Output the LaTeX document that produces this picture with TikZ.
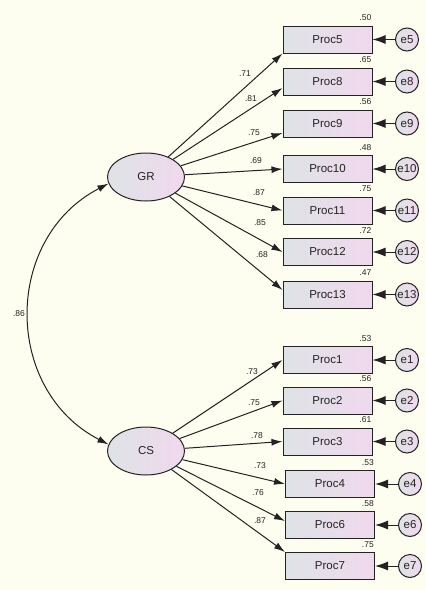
\documentclass[tikz,border=0pt]{standalone}
\usepackage{fontspec}
\setmainfont{Liberation Sans}
\usetikzlibrary{arrows.meta,shapes.geometric}
\definecolor{amosbg}{RGB}{254,254,240}
\definecolor{boxleft}{RGB}{222,227,229}
\definecolor{boxright}{RGB}{240,216,238}
\definecolor{inkgray}{RGB}{35,35,35}

\begin{document}
\begin{tikzpicture}[x=1pt, y=-1pt,
    every node/.style={font=\fontsize{11.5}{13}\selectfont, text=inkgray},
    obs/.style={draw=inkgray, line width=1pt, left color=boxleft, right color=boxright,
                minimum width=89pt, minimum height=27pt, inner sep=0pt},
    lat/.style={draw=inkgray, line width=1pt, ellipse, left color=boxleft, right color=boxright,
                minimum width=77pt, minimum height=48pt, inner sep=0pt},
    err/.style={draw=inkgray, line width=1pt, circle, left color=boxleft, right color=boxright,
                minimum size=23pt, inner sep=0pt},
    ld/.style={font=\fontsize{8.5}{10}\selectfont, inner sep=0pt},
    rsq/.style={font=\fontsize{8.5}{10}\selectfont, inner sep=0pt, anchor=base east},
    arr/.style={-{Latex[length=11pt,width=7pt]}, line width=1pt, draw=inkgray},
    earr/.style={-{Latex[length=13pt,width=9pt]}, line width=1pt, draw=inkgray},
    dbl/.style={{Latex[length=11pt,width=7pt]}-{Latex[length=11pt,width=7pt]}, line width=1pt, draw=inkgray},
]
    % Canvas: 1pt per pixel, y grows downwards
    \fill[amosbg] (0,0) rectangle (426,590);
    \useasboundingbox (0,0) rectangle (426,590);

    % Latent factors
    \node[lat] (gr) at (146,177) {GR};
    \node[lat] (cs) at (146,451) {CS};

    % Indicators of GR
    \node[obs] (p5)  at (327.5, 39.5) {Proc5};
    \node[obs] (p8)  at (327.5, 81.5) {Proc8};
    \node[obs] (p9)  at (327.5,123.5) {Proc9};
    \node[obs] (p10) at (327.5,169.0) {Proc10};
    \node[obs] (p11) at (327.5,210.5) {Proc11};
    \node[obs] (p12) at (327.5,252.0) {Proc12};
    \node[obs] (p13) at (327.5,294.5) {Proc13};

    % Indicators of CS
    \node[obs] (p1)  at (327.5,360.0) {Proc1};
    \node[obs] (p2)  at (327.5,400.5) {Proc2};
    \node[obs] (p3)  at (327.5,441.5) {Proc3};
    \node[obs] (p4)  at (330.0,484.0) {Proc4};
    \node[obs] (p6)  at (330.0,525.0) {Proc6};
    \node[obs] (p7)  at (330.0,566.0) {Proc7};

    % Error terms
    \node[err] (e5)  at (407, 39.5) {e5};
    \node[err] (e8)  at (407, 81.5) {e8};
    \node[err] (e9)  at (407,123.5) {e9};
    \node[err] (e10) at (407,169.0) {e10};
    \node[err] (e11) at (407,210.5) {e11};
    \node[err] (e12) at (407,252.0) {e12};
    \node[err] (e13) at (407,294.5) {e13};
    \node[err] (e1)  at (407,360.0) {e1};
    \node[err] (e2)  at (407,400.5) {e2};
    \node[err] (e3)  at (407,441.5) {e3};
    \node[err] (e4)  at (410,484.0) {e4};
    \node[err] (e6)  at (410,525.0) {e6};
    \node[err] (e7)  at (410,566.0) {e7};

    % Squared multiple correlations
    \node[rsq] (r5)  at ([xshift=-1pt,yshift=5pt]p5.north east)  {.50};
    \node[rsq] (r8)  at ([xshift=-1pt,yshift=5pt]p8.north east)  {.65};
    \node[rsq] (r9)  at ([xshift=-1pt,yshift=5pt]p9.north east)  {.56};
    \node[rsq] (r10) at ([xshift=-1pt,yshift=5pt]p10.north east) {.48};
    \node[rsq] (r11) at ([xshift=-1pt,yshift=5pt]p11.north east) {.75};
    \node[rsq] (r12) at ([xshift=-1pt,yshift=5pt]p12.north east) {.72};
    \node[rsq] (r13) at ([xshift=-1pt,yshift=5pt]p13.north east) {.47};
    \node[rsq] (r1)  at ([xshift=-1pt,yshift=5pt]p1.north east)  {.53};
    \node[rsq] (r2)  at ([xshift=-1pt,yshift=5pt]p2.north east)  {.56};
    \node[rsq] (r3)  at ([xshift=-1pt,yshift=5pt]p3.north east)  {.61};
    \node[rsq] (r4)  at ([xshift=-1pt,yshift=5pt]p4.north east)  {.53};
    \node[rsq] (r6)  at ([xshift=-1pt,yshift=5pt]p6.north east)  {.58};
    \node[rsq] (r7)  at ([xshift=-1pt,yshift=5pt]p7.north east)  {.75};

    % Error paths
    \draw[earr] (e5)  -- (p5);
    \draw[earr] (e8)  -- (p8);
    \draw[earr] (e9)  -- (p9);
    \draw[earr] (e10) -- (p10);
    \draw[earr] (e11) -- (p11);
    \draw[earr] (e12) -- (p12);
    \draw[earr] (e13) -- (p13);
    \draw[earr] (e1)  -- (p1);
    \draw[earr] (e2)  -- (p2);
    \draw[earr] (e3)  -- (p3);
    \draw[earr] (e4)  -- (p4);
    \draw[earr] (e6)  -- (p6);
    \draw[earr] (e7)  -- (p7);

    % Loadings of GR
    \draw[arr] (gr) -- (p5.south west);
    \draw[arr] (gr) -- ([yshift=-6.5pt]p8.west);
    \draw[arr] (gr) -- ([yshift=-9.5pt]p9.west);
    \draw[arr] (gr) -- (p10.west);
    \draw[arr] (gr) -- (p11.west);
    \draw[arr] (gr) -- (p12.west);
    \draw[arr] (gr) -- ([yshift=4.5pt]p13.west);

    \node[ld] (l5)  at (245, 74) {.71};
    \node[ld] (l8)  at (251, 99) {.81};
    \node[ld] (l9)  at (254,133) {.75};
    \node[ld] (l10) at (256,161) {.69};
    \node[ld] (l11) at (259,193) {.87};
    \node[ld] (l12) at (260,223) {.85};
    \node[ld] (l13) at (262,255) {.68};

    % Loadings of CS
    \draw[arr] (cs) -- (p1.west);
    \draw[arr] (cs) -- (p2.west);
    \draw[arr] (cs) -- (p3.west);
    \draw[arr] (cs) -- (p4.west);
    \draw[arr] (cs) -- ([yshift=4pt]p6.west);
    \draw[arr] (cs) -- (p7.north west);

    \node[ld] (l1)  at (252,372) {.73};
    \node[ld] (l2)  at (254,403) {.75};
    \node[ld] (l3)  at (257,436) {.78};
    \node[ld] (l4)  at (260,466) {.73};
    \node[ld] (l6)  at (258,493) {.76};
    \node[ld] (l7)  at (260,521) {.87};

    % Factor correlation
    \draw[dbl] (gr.190) .. controls (3,238) and (3,390) .. (cs.170);
    \node[ld] (l86) at (19,314) {.86};

\end{tikzpicture}
\end{document}
